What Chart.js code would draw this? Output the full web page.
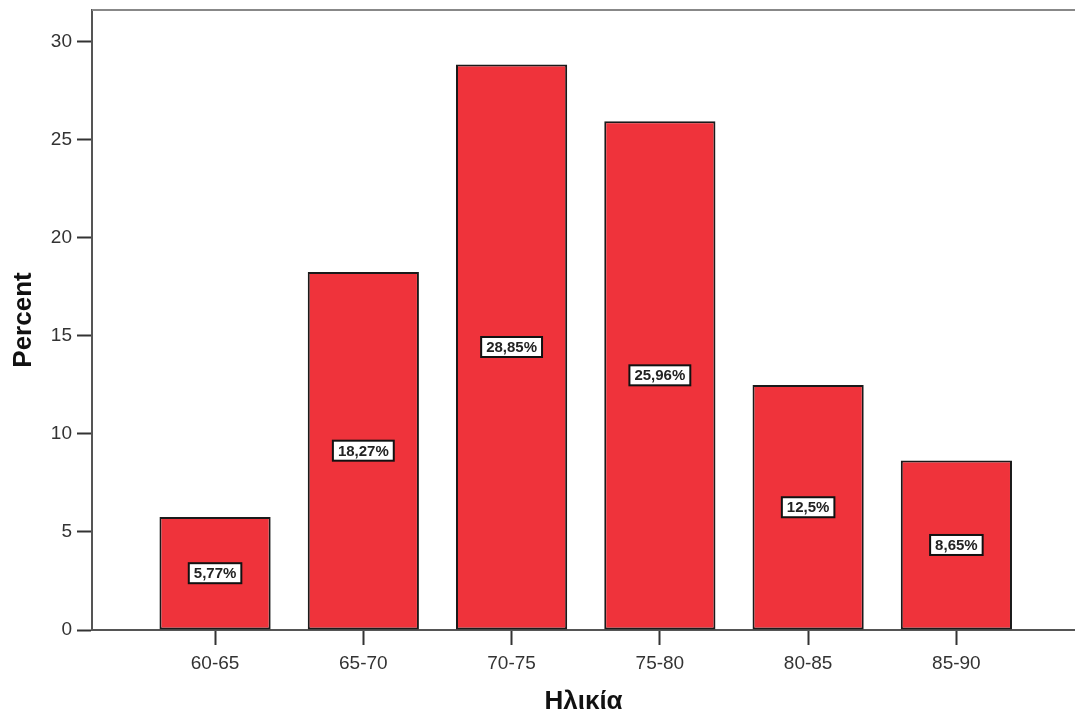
<!DOCTYPE html>
<html>
<head>
<meta charset="utf-8">
<script src="https://cdn.jsdelivr.net/npm/chart.js@4"></script>
<style>
  html, body { margin: 0; padding: 0; background: #fff; }
  #wrap { width: 1075px; height: 720px; }
</style>
</head>
<body>
<div id="wrap"><canvas id="chart"></canvas></div>
<script>
// age groups and percentages
const ageGroups = ['60-65', '65-70', '70-75', '75-80', '80-85', '85-90'];
const percentValues = [5.77, 18.27, 28.85, 25.96, 12.5, 8.65];
const percentLabels = ['5,77%', '18,27%', '28,85%', '25,96%', '12,5%', '8,65%'];
const yTicks = [0, 5, 10, 15, 20, 25, 30];

const FONT = "'Liberation Sans', Arial, sans-serif";

// white boxed labels in the middle of each bar
const boxLabels = {
  id: 'boxLabels',
  afterDatasetsDraw(chart) {
    const ctx = chart.ctx;
    const meta = chart.getDatasetMeta(0);
    ctx.save();
    ctx.font = 'bold 15px ' + FONT;
    ctx.textAlign = 'center';
    ctx.textBaseline = 'middle';
    meta.data.forEach((bar, i) => {
      const text = percentLabels[i];
      const cy = (bar.y + bar.base) / 2;
      const w = ctx.measureText(text).width + 10;
      const h = 20;
      ctx.fillStyle = '#fff';
      ctx.fillRect(bar.x - w / 2, cy - h / 2, w, h);
      ctx.strokeStyle = '#111';
      ctx.lineWidth = 2;
      ctx.strokeRect(bar.x - w / 2, cy - h / 2, w, h);
      ctx.fillStyle = '#222';
      ctx.fillText(text, bar.x, cy + 1);
    });
    ctx.restore();
  }
};

// top frame line
const frameTop = {
  id: 'frameTop',
  afterDraw(chart) {
    const ctx = chart.ctx;
    const a = chart.chartArea;
    ctx.save();
    ctx.strokeStyle = '#888';
    ctx.lineWidth = 2;
    ctx.beginPath();
    ctx.moveTo(a.left, a.top);
    ctx.lineTo(chart.width, a.top);
    ctx.stroke();
    ctx.restore();
  }
};

new Chart(document.getElementById('chart'), {
  type: 'bar',
  data: {
    datasets: [{
      data: percentValues.map((v, i) => ({ x: i + 1, y: v })),
      backgroundColor: '#ef333b',
      borderColor: '#1a1a1a',
      borderWidth: 2,
      borderSkipped: false,
      barPercentage: 0.75,
      categoryPercentage: 1
    }]
  },
  options: {
    responsive: true,
    maintainAspectRatio: false,
    animation: false,
    layout: { padding: { top: 10, right: 0, bottom: 0, left: 0 } },
    plugins: {
      legend: { display: false },
      tooltip: { enabled: false }
    },
    scales: {
      x: {
        type: 'linear',
        offset: false,
        min: 0.17,
        max: 6.8,
        afterBuildTicks(scale) {
          scale.ticks = ageGroups.map((_, i) => ({ value: i + 1 }));
        },
        afterFit(scale) {
          scale.height = 90;
          scale.paddingLeft = 0;
          scale.paddingRight = 0;
        },
        ticks: {
          callback: (v) => ageGroups[v - 1],
          color: '#333',
          font: { size: 19, family: FONT },
          padding: 7
        },
        grid: {
          offset: false,
          drawOnChartArea: false,
          drawTicks: true,
          tickLength: 15,
          tickColor: '#333',
          tickWidth: 2
        },
        border: { color: '#555', width: 2 },
        title: {
          display: true,
          text: 'Ηλικία',
          color: '#111',
          font: { size: 26, weight: 'bold', family: FONT },
          padding: { top: 0, bottom: 3 }
        }
      },
      y: {
        min: 0,
        max: 31.63,
        afterBuildTicks(scale) {
          scale.ticks = yTicks.map(v => ({ value: v }));
        },
        afterFit(scale) {
          scale.width = 92;
          scale.paddingTop = 0;
          scale.paddingBottom = 0;
        },
        ticks: {
          color: '#333',
          font: { size: 19, family: FONT },
          padding: 5
        },
        grid: {
          drawOnChartArea: false,
          drawTicks: true,
          tickLength: 15,
          tickColor: '#333',
          tickWidth: 2
        },
        border: { color: '#555', width: 2 },
        title: {
          display: true,
          text: 'Percent',
          color: '#111',
          font: { size: 26, weight: 'bold', family: FONT },
          padding: { top: 8, bottom: 4 }
        }
      }
    }
  },
  plugins: [boxLabels, frameTop]
});
</script>
</body>
</html>
